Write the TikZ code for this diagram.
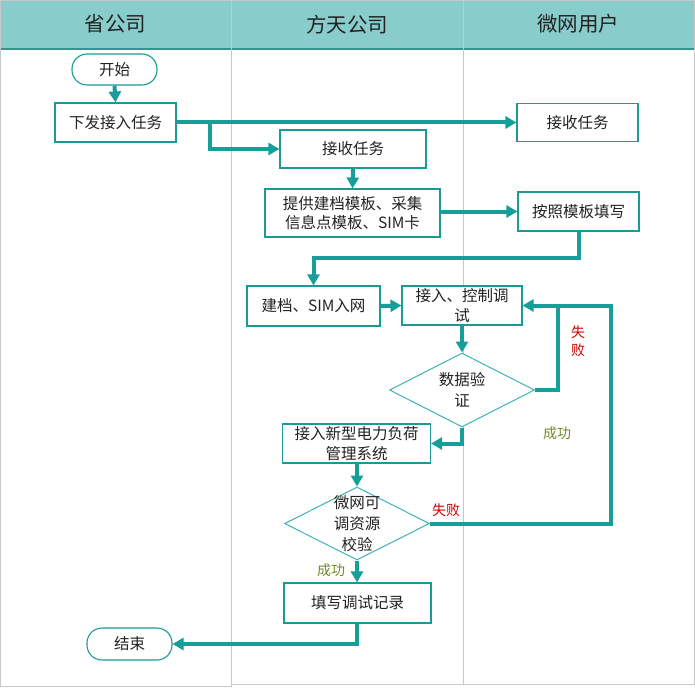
\documentclass[tikz,border=0pt]{standalone}
\usepackage{fontspec}
\setmainfont{Noto Sans CJK SC}
\usetikzlibrary{arrows.meta,shapes.geometric}
\definecolor{hdr}{HTML}{88CCCC}
\definecolor{hdrline}{HTML}{2A9A90}
\definecolor{lane}{HTML}{C8C8C8}
\definecolor{conn}{HTML}{169E98}
\definecolor{nodeb}{HTML}{1A9A94}
\definecolor{diab}{HTML}{3AB5B0}
\definecolor{fail}{HTML}{CC0000}
\definecolor{ok}{HTML}{6E8A2A}
\definecolor{txt}{HTML}{222222}
\tikzset{
  box/.style={draw=nodeb,line width=1.1pt,fill=white,rectangle,inner sep=0pt,align=center,font=\fontsize{15.5pt}{19.5pt}\selectfont,text=txt},
  term/.style={box,rounded corners=15pt},
  dia/.style={draw=diab,line width=1pt,fill=white,diamond,inner sep=0pt},
  diatxt/.style={inner sep=0pt,align=center,font=\fontsize{15.5pt}{21pt}\selectfont,text=txt},
  conline/.style={draw=conn,line width=4pt},
  arr/.style={conline,-{Triangle[length=11pt,width=12pt]}},
  hdrtxt/.style={font=\fontsize{20.5pt}{24pt}\selectfont,text=txt},
  lbl/.style={font=\fontsize{14pt}{18pt}\selectfont,inner sep=0pt,align=center}
}
\begin{document}
\begin{tikzpicture}[x=1pt,y=-1pt]
\useasboundingbox (0,0) rectangle (695,687);
% header
\fill[hdr] (0.5,0.5) rectangle (694,48.5);
\draw[hdrline,line width=1.5pt] (0.5,48.8) -- (694,48.8);
% lanes
\draw[lane,line width=1pt] (0.5,0.5) -- (0.5,686) -- (231.5,686);
\draw[lane,line width=1pt] (231.5,684) -- (694,684) -- (694,0.5) -- (0.5,0.5);
\draw[lane,line width=1pt] (231.5,0.5) -- (231.5,687);
\draw[lane,line width=1pt] (463,0.5) -- (463,684);
\node[hdrtxt] (h1) at (115.5,24) {省公司};
\node[hdrtxt] (h2) at (347,25) {方天公司};
\node[hdrtxt] (h3) at (578,24) {微网用户};
% nodes
\node[term,minimum width=85pt,minimum height=31pt] (start) at (114.5,69.5) {开始};
\node[box,minimum width=121pt,minimum height=39pt] (issue) at (115.5,122.5) {下发接入任务};
\node[box,minimum width=146pt,minimum height=38pt] (recvM) at (353,149) {接收任务};
\node[box,minimum width=121pt,minimum height=38pt] (recvR) at (577.5,122.5) {接收任务};
\node[box,minimum width=175pt,minimum height=48pt] (prov) at (352.5,213) {提供建档模板、采集\\信息点模板、SIM卡};
\node[box,minimum width=121pt,minimum height=39pt] (fill) at (578.5,211.5) {按照模板填写};
\node[box,minimum width=133pt,minimum height=40pt] (arch) at (313.5,306) {建档、SIM入网};
\node[box,minimum width=120pt,minimum height=39pt] (ctrl) at (462,305.5) {接入、控制调\\试};
\node[dia,minimum width=145pt,minimum height=74pt] (dv) at (462,390) {};
\node[diatxt] (dvt) at (dv.center) {数据验\\证};
\node[box,minimum width=148pt,minimum height=39pt] (sys) at (356.5,443.5) {接入新型电力负荷\\管理系统};
\node[dia,minimum width=145pt,minimum height=73pt] (mv) at (357,523.5) {};
\node[diatxt] (mvt) at (mv.center) {微网可\\调资源\\校验};
\node[box,minimum width=147pt,minimum height=40pt] (rec) at (357.5,603) {填写调试记录};
\node[term,minimum width=85pt,minimum height=32pt] (end) at (129.5,644) {结束};
% connectors
\draw[arr] (start.south) -- (issue.north);
\draw[arr] (issue.east) -- (recvR.west);
\coordinate (b1) at (210,122.5);
\draw[arr] (b1) |- (recvM.west);
\draw[arr] (recvM.south) -- (prov.north);
\draw[arr] (prov.east |- fill.west) -- (fill.west);
\coordinate (c1) at (578.5,258);
\coordinate (c2) at (313.5,258);
\draw[arr] (fill.south -| c1) -- (c1) -- (c2) -- (arch.north);
\draw[arr] (arch.east) -- (ctrl.west);
\draw[arr] (ctrl.south) -- (dv.north);
\coordinate (f1) at (558,390);
\coordinate (f2) at (558,305.5);
\draw[conline] (dv.east) -- (f1) -- (f2);
\coordinate (f3) at (611,523.5);
\coordinate (f4) at (611,305.5);
\draw[arr] (mv.east) -- (f3) -- (f4) -- (ctrl.east);
\coordinate (s1) at (462,443.5);
\draw[arr] (dv.south) -- (s1) -- (sys.east);
\draw[arr] (sys.south -| mv.north) -- (mv.north);
\draw[arr] (mv.south) -- (mv.south |- rec.north);
\coordinate (e1) at (357,644);
\draw[arr] (rec.south -| e1) -- (e1) -- (end.east);
% labels
\node[lbl,text=fail] (l1) at (578,341) {失\\败};
\node[lbl,text=ok] (l2) at (557,433) {成功};
\node[lbl,text=fail] (l3) at (446,510) {失败};
\node[lbl,text=ok] (l4) at (331,570) {成功};
\end{tikzpicture}
\end{document}
